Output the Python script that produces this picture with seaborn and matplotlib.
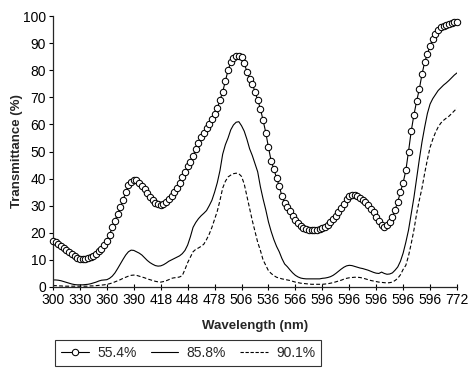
import numpy as np
import pandas as pd
import matplotlib
matplotlib.use("Agg")
import matplotlib.pyplot as plt
import seaborn as sns
from matplotlib.lines import Line2D

# ---------------- data ----------------
tick_labels = ["300", "330", "360", "390", "418", "448", "478", "506",
               "536", "566", "596", "596", "596", "596", "596", "772"]
series_names = ["55.4%", "85.8%", "90.1%"]

t_554 = [17.0, 16.5, 16.0, 15.3, 14.5, 13.6, 12.8, 12.0, 11.3, 10.8,
         10.4, 10.3, 10.4, 10.7, 11.1, 11.6, 12.3, 13.1, 14.2, 15.5,
         17.0, 19.3, 22.0, 24.5, 27.0, 29.5, 32.0, 35.0, 37.5, 38.8,
         39.4, 39.3, 38.4, 37.2, 36.0, 34.7, 33.3, 32.0, 31.0, 30.5,
         30.3, 30.6, 31.4, 32.4, 33.5, 35.0, 36.5, 38.5, 40.5, 42.5,
         44.5, 46.3, 48.5, 50.8, 53.0, 55.5, 57.0, 58.6, 60.3, 62.0,
         63.8, 66.0, 69.0, 72.0, 76.0, 80.0, 83.0, 84.5, 85.3, 85.4,
         84.8, 82.5, 79.5, 76.8, 75.0, 72.0, 69.0, 65.8, 61.5, 57.0,
         51.5, 46.5, 43.5, 40.2, 37.3, 33.5, 31.0, 29.5, 28.0, 26.2,
         24.8, 23.5, 22.5, 21.8, 21.4, 21.2, 21.0, 21.0, 21.1, 21.3,
         21.7, 22.3, 23.0, 24.0, 25.0, 26.3, 27.8, 29.3, 30.8, 32.3,
         33.5, 34.0, 34.0, 33.7, 33.0, 32.0, 31.2, 30.2, 28.8, 27.5,
         25.8, 24.3, 22.8, 22.3, 23.0, 24.0, 26.0, 28.5, 31.5, 35.0,
         38.5, 43.0, 50.0, 57.5, 63.5, 68.5, 73.0, 78.5, 83.0, 86.0,
         89.0, 91.5, 93.5, 95.0, 95.8, 96.3, 96.8, 97.2, 97.5, 97.7,
         97.8]

t_858 = [2.6, 2.6, 2.5, 2.3, 2.0, 1.7, 1.4, 1.1, 0.9, 0.8,
         0.8, 0.8, 0.9, 1.0, 1.2, 1.5, 1.8, 2.2, 2.5, 2.6,
         2.7, 3.2, 4.0, 5.2, 6.8, 8.5, 10.2, 11.8, 13.0, 13.6,
         13.5, 13.0, 12.5, 11.8, 10.8, 9.8, 9.0, 8.4, 7.9, 7.7,
         7.8, 8.2, 8.8, 9.5, 10.0, 10.5, 11.0, 11.5, 12.3, 13.5,
         15.5, 18.5, 22.0, 23.8, 25.2, 26.3, 27.2, 28.2, 30.0, 32.0,
         35.0, 38.5, 43.0, 49.0, 52.5, 55.0, 58.0, 59.8, 60.8, 61.0,
         59.5, 57.5, 54.5, 51.0, 48.5, 45.5, 42.5, 37.0, 32.5, 28.5,
         24.0, 20.5, 17.5, 15.0, 13.0, 10.5, 8.5, 7.5, 6.3, 5.2,
         4.3, 3.7, 3.3, 3.1, 3.0, 3.0, 3.0, 3.0, 3.0, 3.0,
         3.2, 3.3, 3.5, 3.8, 4.3, 5.0, 5.8, 6.6, 7.3, 7.8,
         8.0, 7.9, 7.6, 7.3, 7.0, 6.8, 6.5, 6.2, 5.8, 5.4,
         5.1, 5.0, 5.5, 5.0, 4.7, 4.8, 5.2, 6.2, 7.4, 9.5,
         12.5, 16.5, 21.0, 27.0, 33.0, 40.0, 47.0, 53.5, 59.0, 64.0,
         67.5, 69.5, 71.0, 72.5, 73.5, 74.5, 75.3, 76.2, 77.2, 78.2,
         79.0]

t_901 = [0.5, 0.5, 0.4, 0.4, 0.3, 0.3, 0.3, 0.3, 0.3, 0.3,
         0.3, 0.3, 0.3, 0.3, 0.4, 0.4, 0.5, 0.6, 0.7, 0.8,
         1.0, 1.2, 1.5, 1.9, 2.3, 2.7, 3.2, 3.6, 4.0, 4.3,
         4.4, 4.3, 4.0, 3.7, 3.4, 3.0, 2.7, 2.4, 2.1, 1.9,
         1.8, 2.0, 2.3, 2.7, 3.2, 3.4, 3.5, 3.7, 4.2, 6.5,
         9.0, 11.0, 13.0, 13.9, 14.4, 15.0, 15.8, 17.5, 19.5, 22.0,
         25.0, 28.0, 32.0, 36.5, 39.0, 40.6, 41.3, 41.8, 42.0, 41.8,
         40.8, 38.0, 33.5, 29.0, 24.5, 20.5, 16.5, 13.5, 10.0, 8.0,
         6.0, 5.0, 4.2, 3.6, 3.3, 3.0, 2.8, 2.6, 2.4, 2.1,
         1.8, 1.6, 1.4, 1.3, 1.2, 1.1, 1.0, 1.0, 1.0, 1.0,
         1.0, 1.1, 1.2, 1.4, 1.6, 1.9, 2.2, 2.5, 2.9, 3.2,
         3.4, 3.5, 3.6, 3.6, 3.5, 3.3, 3.0, 2.7, 2.4, 2.2,
         2.0, 1.8, 1.7, 1.6, 1.5, 1.6, 1.8, 2.4, 3.2, 4.5,
         6.5, 8.0, 11.5, 16.0, 21.0, 27.0, 32.0, 36.5, 42.0, 47.0,
         51.5, 54.5, 57.0, 59.0, 60.5, 61.5, 62.3, 63.0, 64.0, 65.0,
         66.0]

# ---------------- style ----------------
sns.set_style("ticks")
plt.rcParams["font.family"] = ["Liberation Sans Narrow", "Liberation Sans", "DejaVu Sans"]

sample = np.arange(len(t_554))
df = pd.DataFrame({"sample": np.concatenate([sample, sample, sample]),
                   "T": t_554 + t_858 + t_901,
                   "series": np.repeat(series_names, len(sample))})

fig = plt.figure(figsize=(4.72, 3.72), dpi=100)
ax = fig.add_axes([53 / 472, 1 - 287 / 372, 404 / 472, 271 / 372])

sns.lineplot(data=df[df.series == "55.4%"], x="sample", y="T", ax=ax,
             color="black", lw=0.8, marker="o", markersize=4.6,
             markerfacecolor="white", markeredgecolor="black",
             markeredgewidth=0.75, clip_on=False, zorder=3)
sns.lineplot(data=df[df.series == "85.8%"], x="sample", y="T", ax=ax,
             color="black", lw=0.8)
sns.lineplot(data=df[df.series == "90.1%"], x="sample", y="T", ax=ax,
             color="black", lw=0.8, linestyle=(0, (3.5, 2)))

ax.set_xlim(0, 150)
ax.set_ylim(0, 100)
ax.set_xticks(np.arange(0, 151, 10))
ax.set_xticklabels(tick_labels)
ax.set_yticks(np.arange(0, 101, 10))
sns.despine(ax=ax)
for s in ("left", "bottom"):
    ax.spines[s].set_linewidth(0.9)
ax.tick_params(axis="x", direction="inout", length=5, width=0.8,
               labelsize=10, pad=2, colors="black")
ax.tick_params(axis="y", direction="out", length=3, width=0.8,
               labelsize=10, pad=2, colors="black")
ax.set_xlabel("Wavelength (nm)", fontsize=9.5, fontweight="bold",
              family=["Liberation Sans", "DejaVu Sans"], labelpad=9)
ax.set_ylabel("Transmittance (%)", fontsize=9.5, fontweight="bold",
              family=["Liberation Sans", "DejaVu Sans"], labelpad=0)
if ax.get_legend() is not None:
    ax.get_legend().remove()

handles = [
    Line2D([], [], color="black", lw=0.8, marker="o", markersize=4.6,
           markerfacecolor="white", markeredgecolor="black", markeredgewidth=0.75),
    Line2D([], [], color="black", lw=0.8),
    Line2D([], [], color="black", lw=0.8, linestyle=(0, (3, 1.5))),
]
leg = fig.legend(handles, series_names, ncol=3, loc="center left",
                 bbox_to_anchor=(55 / 472, 1 - 353 / 372), borderaxespad=0,
                 frameon=True, fancybox=False, fontsize=10,
                 handlelength=2.0, handletextpad=0.6, columnspacing=1.0,
                 borderpad=0.45, edgecolor="black")
leg.get_frame().set_linewidth(0.8)

fig.savefig("out.png", dpi=100)
